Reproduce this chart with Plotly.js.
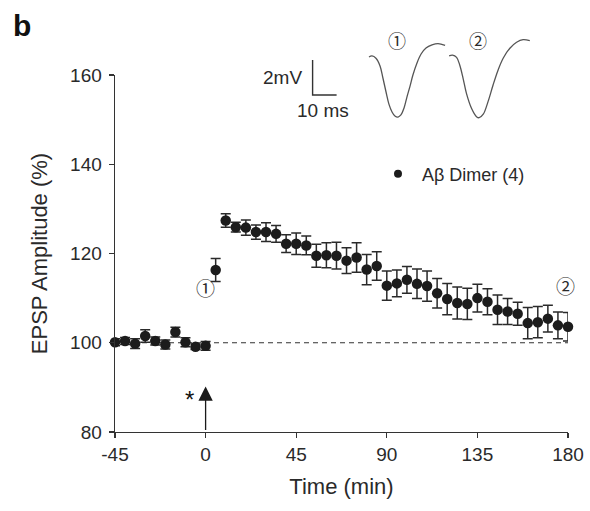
<!DOCTYPE html>
<html>
<head>
<meta charset="utf-8">
<script src="https://cdn.plot.ly/plotly-3.0.1.min.js"></script>
<style>html,body{margin:0;padding:0;background:#fff;}#chart{width:590px;height:511px;}</style>
</head>
<body>
<div id="chart"></div>
<script>
// ---------- data ----------
const timeMin = [-45,-40,-35,-30,-25,-20,-15,-10,-5,0,5,10,15,20,25,30,35,40,45,50,55,60,65,70,75,80,85,90,95,100,105,110,115,120,125,130,135,140,145,150,155,160,165,170,175,180];
const epspAmp = [100.1,100.4,99.8,101.5,100.4,99.6,102.4,100.1,99.1,99.3,116.3,127.4,125.9,125.8,124.8,124.8,124.4,122.2,122.2,121.8,119.5,119.6,119.5,118.4,119.1,116.4,117.2,112.8,113.3,114.1,113.2,112.7,111.1,109.8,108.9,108.7,110.0,109.2,107.4,107.0,106.5,104.4,104.6,105.4,103.9,103.6];
const epspSem = [0.8,0.8,1.1,1.4,0.9,1.0,1.1,1.0,0.6,1.0,2.6,1.5,1.1,1.7,1.6,2.1,1.9,2.0,2.4,2.1,2.6,2.8,3.0,2.9,3.3,3.4,3.2,3.3,3.0,3.0,3.3,3.4,3.3,3.5,3.6,3.5,3.1,2.9,3.3,2.9,2.6,3.5,3.5,3.0,3.0,3.2];
const seriesName = "A\u03b2 Dimer (4)";
const xTicks = [-45,0,45,90,135,180];
const yTicks = [80,100,120,140,160];
const baselineLevel = 100;
const inductionTime = 0;

// inset traces (ms, mV)
const trace1T = [0,1.25,2.9,4.6,5.8,7.1,8.3,9.6,10.8,12.1,13.3,14.6,15.8,17.1,18.3,20.0,21.7,23.75,26.25,28.75,31.7];
const trace1V = [0,0.06,-0.07,-0.51,-1.2,-2.0,-2.69,-3.14,-3.37,-3.43,-3.31,-2.91,-2.29,-1.66,-1.03,-0.34,0.17,0.51,0.69,0.77,0.66];
const trace2T = [0,1.4,3.1,4.4,5.8,7.2,9.3,11.4,12.5,14.2,16.2,18.3,20.4,22.5,25.3,28.1,30.8,33.6];
const trace2V = [0.07,0.11,-0.02,-0.46,-1.22,-2.08,-2.93,-3.41,-3.47,-3.27,-2.55,-1.6,-0.74,-0.07,0.50,0.84,0.99,0.93];
const scaleBarMs = 10;
const scaleBarMv = 2;

// ---------- layout helpers ----------
const W = 590, H = 511;
const M = {l:115, r:22, t:20, b:79};
const PW = W - M.l - M.r, PH = H - M.t - M.b;
const fx = px => (px - M.l) / PW;
const fy = py => (H - M.b - py) / PH;
const mainTopPx = 75;
const trace2Offset = 33.4;   // ms offset of second trace in inset
const sbX = -23.5, sbY = -2.17;
const insetX = [-25, 70], insetY = [-3.886, 1.543];
const msPx = 2.4, mvPx = 17.5, insetOriginPx = [369, 57];

const ink = '#2a2a2a';
const font = 'Liberation Sans, Arial, sans-serif';
const circ = 'Noto Sans CJK JP, Noto Sans CJK SC, DejaVu Sans, sans-serif';

const data = [
  {
    x: timeMin, y: epspAmp, type: 'scatter', mode: 'markers', showlegend: false,
    cliponaxis: false,
    marker: {color: '#1c1c1c', size: 10.5},
    error_y: {type: 'data', array: epspSem, visible: true, color: '#2a2a2a', thickness: 1.5, width: 5}
  },
  {
    x: [null], y: [null], type: 'scatter', mode: 'markers', name: seriesName,
    marker: {color: '#1c1c1c', size: 8}
  },
  {
    x: trace1T, y: trace1V, xaxis: 'x2', yaxis: 'y2', type: 'scatter', mode: 'lines',
    showlegend: false, line: {color: '#555', width: 1.3, shape: 'spline'}
  },
  {
    x: trace2T.map(t => t + trace2Offset), y: trace2V, xaxis: 'x2', yaxis: 'y2', type: 'scatter', mode: 'lines',
    showlegend: false, line: {color: '#555', width: 1.3, shape: 'spline'}
  },
  {
    x: [sbX, sbX, sbX + scaleBarMs], y: [sbY + scaleBarMv, sbY, sbY], xaxis: 'x2', yaxis: 'y2',
    type: 'scatter', mode: 'lines', showlegend: false, line: {color: '#333', width: 1.4}
  }
];

const insetXDomain = [fx(insetOriginPx[0] + insetX[0]*msPx), fx(insetOriginPx[0] + insetX[1]*msPx)];
const insetYDomain = [fy(insetOriginPx[1] - insetY[0]*mvPx), fy(insetOriginPx[1] - insetY[1]*mvPx)];

const layout = {
  width: W, height: H,
  margin: M,
  paper_bgcolor: '#fff', plot_bgcolor: '#fff',
  font: {family: font, color: ink, size: 19},
  showlegend: true,
  legend: {x: fx(374), y: fy(174), xanchor: 'left', yanchor: 'middle', bgcolor: 'rgba(0,0,0,0)',
           font: {size: 18, family: font, color: ink}, itemwidth: 38},
  xaxis: {
    domain: [0, 1], range: [-45, 180], tickvals: xTicks, ticktext: xTicks.map(String),
    showgrid: false, zeroline: false, showline: true, linecolor: '#333', linewidth: 1.4,
    ticks: 'outside', ticklen: 5, tickwidth: 1.4, tickcolor: '#333',
    tickfont: {size: 19, color: ink},
    title: {text: 'Time (min)', font: {size: 22, color: ink}, standoff: 14},
    anchor: 'y'
  },
  yaxis: {
    domain: [0, fy(mainTopPx)], range: [80, 160], tickvals: yTicks,
    showgrid: false, zeroline: false, showline: true, linecolor: '#333', linewidth: 1.4,
    ticks: 'outside', ticklen: 5, tickwidth: 1.4, tickcolor: '#333', ticklabelstandoff: 3,
    tickfont: {size: 19, color: ink},
    title: {text: 'EPSP Amplitude (%)', font: {size: 22, color: ink}, standoff: 16},
    anchor: 'x'
  },
  xaxis2: {domain: insetXDomain, range: insetX, visible: false, anchor: 'y2', fixedrange: true},
  yaxis2: {domain: insetYDomain, range: insetY, visible: false, anchor: 'x2', fixedrange: true},
  shapes: [
    {type: 'line', xref: 'x', yref: 'y', x0: -45, x1: 180, y0: baselineLevel, y1: baselineLevel,
     line: {color: '#333', width: 1.2, dash: '5px,4px'}, layer: 'below'}
  ],
  annotations: [
    {text: '<b>b</b>', xref: 'paper', yref: 'paper', x: fx(22), y: fy(26), showarrow: false,
     font: {size: 30, color: '#111'}, xanchor: 'center', yanchor: 'middle'},
    {text: '2mV', xref: 'paper', yref: 'paper', x: fx(282), y: fy(77), showarrow: false,
     font: {size: 19, color: ink}, xanchor: 'center', yanchor: 'middle'},
    {text: '10 ms', xref: 'paper', yref: 'paper', x: fx(323), y: fy(110), showarrow: false,
     font: {size: 19, color: ink}, xanchor: 'center', yanchor: 'middle'},
    {text: '\u2460', xref: 'paper', yref: 'paper', x: fx(397), y: fy(40), showarrow: false,
     font: {size: 18, color: ink, family: circ}, xanchor: 'center', yanchor: 'middle'},
    {text: '\u2461', xref: 'paper', yref: 'paper', x: fx(478), y: fy(40), showarrow: false,
     font: {size: 18, color: ink, family: circ}, xanchor: 'center', yanchor: 'middle'},
    {text: '\u2460', xref: 'paper', yref: 'paper', x: fx(205), y: fy(287), showarrow: false,
     font: {size: 19, color: ink, family: circ}, xanchor: 'center', yanchor: 'middle'},
    {text: '\u2461', xref: 'paper', yref: 'paper', x: fx(565), y: fy(285), showarrow: false,
     font: {size: 19, color: ink, family: circ}, xanchor: 'center', yanchor: 'middle'},
    {text: '*', xref: 'paper', yref: 'paper', x: fx(189), y: fy(399), showarrow: false,
     font: {size: 24, color: '#111'}, xanchor: 'center', yanchor: 'middle'},
    {text: '', xref: 'x', yref: 'y', x: inductionTime, y: 90.2, showarrow: true,
     ax: 0, ay: 45, arrowhead: 2, arrowsize: 2.2, arrowwidth: 1.3, arrowcolor: '#1a1a1a', standoff: 0}
  ]
};

Plotly.newPlot('chart', data, layout, {staticPlot: true, displayModeBar: false});
</script>
</body>
</html>
